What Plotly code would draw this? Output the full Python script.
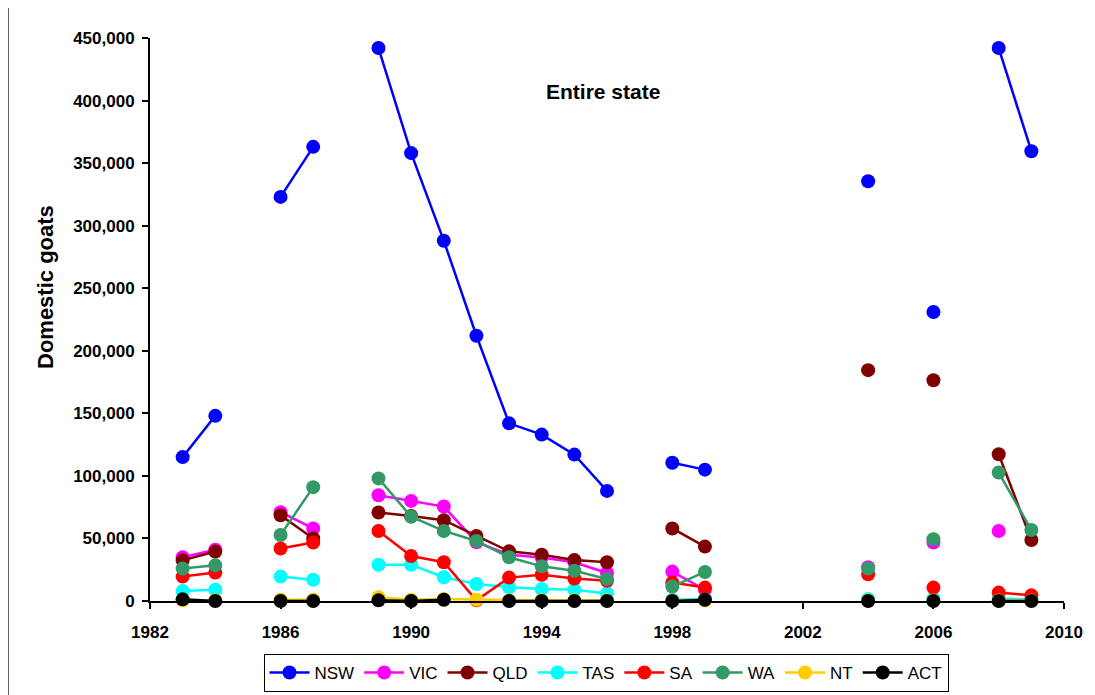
import plotly.graph_objects as go

years = [1983, 1984, 1985, 1986, 1987, 1988, 1989, 1990, 1991, 1992, 1993, 1994, 1995, 1996,
         1997, 1998, 1999, 2000, 2004, 2005, 2006, 2007, 2008, 2009]

NSW = [115000, 148000, None, 323000, 363000, None, 442000, 358000, 288000, 212000, 142000, 133000, 117000, 88000,
       None, 110500, 105000, None, 335500, None, 231000, None, 442000, 359500]
VIC = [35000, 41000, None, 71000, 58000, None, 84500, 80000, 75500, 47000, 37000, 34700, 31000, 22400,
       None, 23500, 9000, None, 27000, None, 46700, None, 56000, None]
QLD = [32500, 39500, None, 68500, 50000, None, 70700, 68000, 64600, 52000, 39700, 37000, 32700, 31000,
       None, 58000, 43500, None, 184500, None, 176500, None, 117300, 48800]
TAS = [8000, 9000, None, 19500, 17000, None, 29000, 29000, 19000, 13600, 11000, 9600, 9000, 6000,
       None, 1000, 1500, None, 1500, None, 2000, None, 2000, 1300]
SA = [19500, 22700, None, 42000, 46700, None, 56000, 36000, 31000, 500, 18700, 21000, 18000, 16200,
      None, 14700, 10700, None, 21300, None, 10700, None, 6700, 4500]
WA = [26000, 28500, None, 52800, 91000, None, 98000, 67400, 56000, 48000, 35000, 27700, 24200, 17600,
      None, 11500, 23200, None, 26000, None, 49300, None, 102700, 56800]
NT = [500, 500, None, 1000, 1000, None, 3000, 1000, 1500, 1000, 500, 500, 500, 500,
      None, 300, 300, None, 300, None, 300, None, 300, 300]
ACT = [1300, 0, None, 0, 0, None, 500, 0, 1000, None, 0, 0, 0, 0,
       None, 0, 1000, None, 0, None, 0, None, 0, 0]

series = [("NSW", NSW, "#0000FF"), ("VIC", VIC, "#FF00FF"), ("QLD", QLD, "#800000"),
          ("TAS", TAS, "#00FFFF"), ("SA", SA, "#FF0000"), ("WA", WA, "#339966"),
          ("NT", NT, "#FFCC00"), ("ACT", ACT, "#000000")]

x_ticks = [1982, 1986, 1990, 1994, 1998, 2002, 2006, 2010]
y_ticks = [0, 50000, 100000, 150000, 200000, 250000, 300000, 350000, 400000, 450000]

fig = go.Figure()
for name, vals, color in series:
    fig.add_trace(go.Scatter(
        x=years, y=vals, name=name, mode="lines+markers",
        line=dict(color=color, width=2.5),
        marker=dict(color=color, size=14),
        connectgaps=False, cliponaxis=False,
    ))

font_family = "Arial, Liberation Sans, sans-serif"
FIG_W, FIG_H = 1087, 687

# page body has an 8px margin, so the figure is drawn 8px smaller and offset
fig.update_layout(
    width=FIG_W, height=FIG_H,
    margin=dict(l=142, r=31, t=30, b=94, autoexpand=False),
    paper_bgcolor="white", plot_bgcolor="white",
    font=dict(family=font_family, color="black"),
    showlegend=True,
    legend=dict(orientation="h", x=(606 - 150) / 914, xanchor="center",
                yref="container", y=3 / FIG_H, yanchor="bottom",
                bordercolor="black", borderwidth=1, font=dict(size=17, family=font_family),
                itemwidth=40, tracegroupgap=0),
    xaxis=dict(range=[1982, 2010], tickvals=x_ticks, showgrid=False, zeroline=False, automargin=False,
               showline=True, linecolor="black", linewidth=2, ticks="outside", ticklen=6,
               tickwidth=2, tickcolor="black", ticklabelstandoff=9,
               tickfont=dict(size=17, weight="bold", family=font_family)),
    yaxis=dict(range=[0, 450000], tickvals=y_ticks, tickformat=",", showgrid=False, zeroline=False,
               automargin=False,
               showline=True, linecolor="black", linewidth=2, ticks="outside", ticklen=6,
               tickwidth=2, tickcolor="black", ticklabelstandoff=4,
               tickfont=dict(size=17, weight="bold", family=font_family)),
    annotations=[
        dict(text="Entire state", xref="paper", yref="paper",
             x=(603 - 150) / 914, y=(601 - 91) / 563, xanchor="center", yanchor="middle",
             showarrow=False, font=dict(size=21, weight="bold", family=font_family)),
        dict(text="Domestic goats", xref="paper", yref="paper",
             x=(45 - 150) / 914, y=(601 - 287) / 563, xanchor="center", yanchor="middle",
             textangle=-90, showarrow=False,
             font=dict(size=22, weight="bold", family=font_family)),
    ],
    shapes=[
        dict(type="rect", xref="paper", yref="paper",
             x0=(8 - 150) / 914, x1=(1091 - 150) / 914,
             y0=(601 - 705) / 563, y1=(601 - 7) / 563,
             line=dict(color="#333333", width=1.5), fillcolor="rgba(0,0,0,0)", layer="below"),
    ],
)

fig.write_html("out.html")
